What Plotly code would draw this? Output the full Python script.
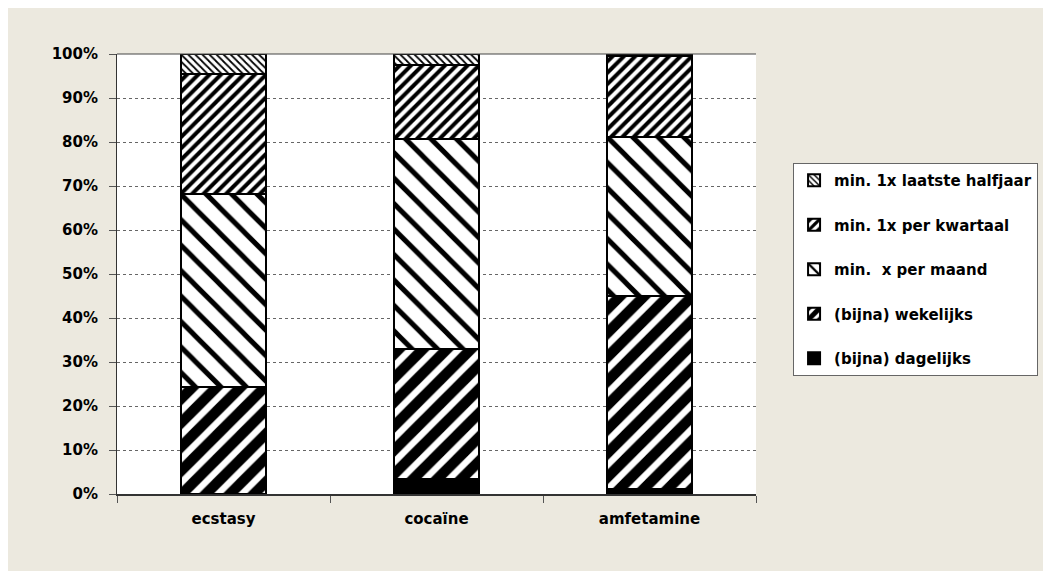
import plotly.graph_objects as go

# categories and series (percent of users)
drugs = ["ecstasy", "cocaïne", "amfetamine"]

dagelijks = [0.0, 3.4, 1.2]
wekelijks = [24.3, 29.6, 43.8]
per_maand = [43.8, 47.6, 36.1]
per_kwartaal = [27.3, 16.9, 18.4]
halfjaar = [4.6, 2.5, 0.5]

y_ticks = [0, 10, 20, 30, 40, 50, 60, 70, 80, 90, 100]
y_labels = [f"{v}%" for v in y_ticks]

BEIGE = "#ece9df"
FONT = "DejaVu Sans, sans-serif"

series = [
    ("(bijna) dagelijks", dagelijks, dict(shape="", fgcolor="black", bgcolor="black")),
    ("(bijna) wekelijks", wekelijks, dict(shape="/", size=17, solidity=0.62)),
    ("min.  x per maand", per_maand, dict(shape="\\", size=18, solidity=0.28)),
    ("min. 1x per kwartaal", per_kwartaal, dict(shape="/", size=8, solidity=0.5)),
    ("min. 1x laatste halfjaar", halfjaar, dict(shape="\\", size=5, solidity=0.35)),
]

fig = go.Figure()
for i, (name, vals, pat) in enumerate(series):
    if pat["shape"]:
        pat = dict(pat, fgcolor="black", bgcolor="white", fgopacity=1)
    fig.add_trace(go.Bar(
        x=drugs, y=vals, name=name,
        legendgroup=str(i), legendrank=len(series) - i,
        marker={"color": "black" if pat["shape"] == "" else "white",
                "pattern": pat,
                "line": {"color": "black", "width": 2}},
    ))

fig.update_layout(
    width=1051, height=571,
    barmode="stack", bargap=0.6,
    paper_bgcolor=BEIGE, plot_bgcolor="white",
    font={"family": FONT, "size": 15, "color": "black"},
    margin={"l": 109, "r": 303, "t": 46, "b": 85},
    showlegend=True,
    legend={"x": 1.058, "y": 0.752, "xanchor": "left", "yanchor": "top",
            "bgcolor": "white", "bordercolor": "#666666", "borderwidth": 1,
            "traceorder": "grouped", "tracegroupgap": 22,
            "itemwidth": 30,
            "font": {"family": FONT, "size": 15, "weight": "bold"}},
    shapes=[
        dict(type="line", xref="paper", yref="paper",
             x0=0, x1=1, y0=1, y1=1, line={"color": "#444444", "width": 1}),
    ],
    xaxis={"showline": True, "linecolor": "#333333", "linewidth": 2,
           "ticks": "outside", "tickson": "boundaries", "ticklen": 7,
           "tickcolor": "#555555", "ticklabelstandoff": 10,
           "tickfont": {"family": FONT, "size": 15, "weight": "bold"}},
    yaxis={"range": [0, 100], "tickmode": "array",
           "tickvals": y_ticks, "ticktext": y_labels,
           "showline": True, "linecolor": "#333333", "linewidth": 1,
           "ticks": "outside", "ticklen": 7, "tickcolor": "#555555",
           "showgrid": True, "gridcolor": "#666666", "griddash": "dot",
           "gridwidth": 1, "zeroline": False, "ticklabelstandoff": 8,
           "tickfont": {"family": FONT, "size": 15, "weight": "bold"}},
)

fig.write_html("out.html")
